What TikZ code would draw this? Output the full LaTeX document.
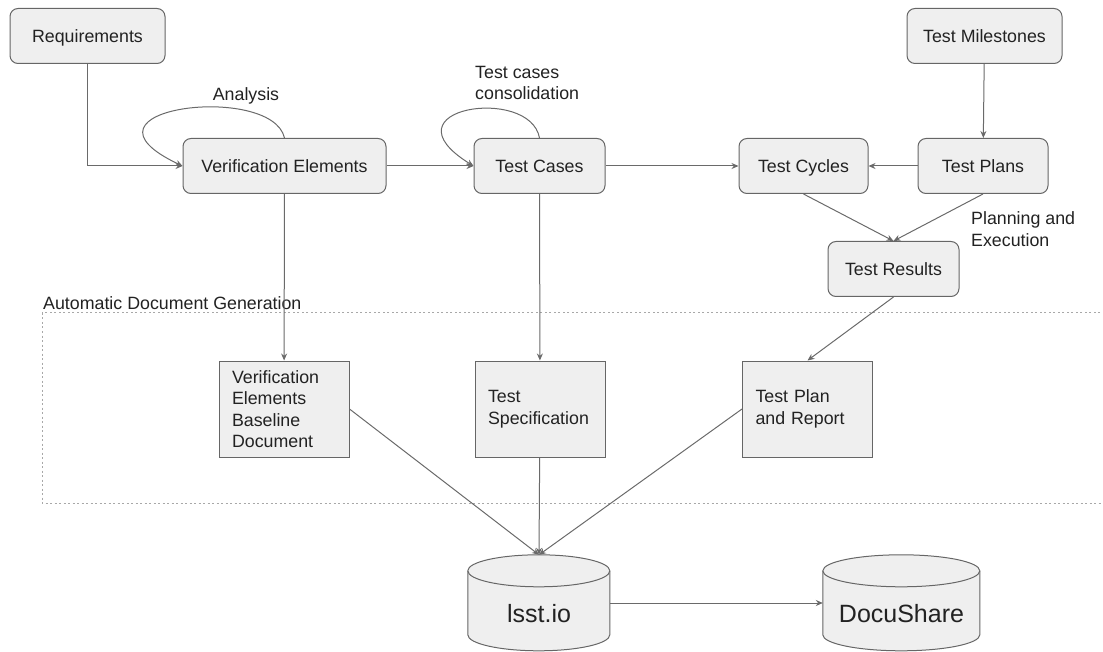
\documentclass[tikz,border=0pt]{standalone}
\usepackage{fontspec}
\setmainfont{Liberation Sans}
\usepackage{xcolor}
\usetikzlibrary{arrows.meta,backgrounds}
\definecolor{boxfill}{HTML}{EFEFEF}
\definecolor{boxline}{HTML}{666666}
\definecolor{wire}{HTML}{6A6A6A}
\definecolor{ink}{HTML}{222222}
\definecolor{frame}{HTML}{A8A8A8}
\newcommand{\labelfont}{\fontsize{17.8}{21.5}\selectfont}
% drum outline round a store node (node name, x radius)
\newcommand{\drum}[2]{%
  \filldraw[drum] (#1.north west) ++(0,16) -- ++(0,64)
    arc[start angle=180, end angle=360, x radius=#2pt, y radius=16pt] -- ++(0,-64)
    arc[start angle=0, end angle=180, x radius=#2pt, y radius=16pt] -- cycle;
  \draw[drum] (#1.north west) ++(0,16)
    arc[start angle=180, end angle=360, x radius=#2pt, y radius=16pt];
}
\tikzset{
  stage/.style={draw=boxline, fill=boxfill, rounded corners=8pt, line width=1pt,
    minimum height=55pt, inner sep=0pt, text height=12.8pt, text depth=0pt,
    text=ink, font=\labelfont},
  report/.style={draw=boxline, fill=boxfill, line width=1pt, minimum height=96pt,
    inner xsep=13pt, inner ysep=0pt, text width=104pt, align=left, text=ink, font=\labelfont},
  store/.style={inner sep=0pt, minimum height=96pt, text height=40pt, text depth=2pt,
    text=ink, font=\fontsize{25}{30}\selectfont},
  drum/.style={draw=boxline, fill=boxfill, line width=1pt},
  note/.style={inner sep=0pt, text=ink, font=\labelfont, align=left},
  flow/.style={draw=wire, line width=1pt, -{Stealth[length=7pt,width=6pt]}}
}
\begin{document}
\begin{tikzpicture}[x=1pt, y=-1pt]
  \useasboundingbox (0,0) rectangle (1103,652);
  % document generation frame
  \draw[frame, line width=1pt, dash pattern=on 2pt off 2.5pt] (42,313) rectangle (1110,503);
  \node[note, anchor=base west] (adg) at (43,309) {Automatic Document Generation};
  % top row
  \node[stage, minimum width=155pt] (req) at (87.5,36) {Requirements};
  \node[stage, minimum width=203pt] (ve) at (284.5,166) {Verification Elements};
  \node[stage, minimum width=131pt] (tc) at (539.5,166) {Test Cases};
  \node[stage, minimum width=129pt] (tcy) at (803.5,166) {Test Cycles};
  \node[stage, minimum width=130pt] (tp) at (983,166) {Test Plans};
  \node[stage, minimum width=155pt] (tm) at (984.5,36) {Test Milestones};
  \node[stage, minimum width=131pt] (tr) at (893.5,269) {Test Results};
  % generated documents
  \node[report] (vebd) at (284,409) {Verification\\Elements\\Baseline\\Document};
  \node[report] (ts) at (540,409) {Test\\Specification};
  \node[report] (tpr) at (807.5,409) {Test Plan\\and Report};
  % stores
  \node[store, minimum width=142pt] (lsst) at (539,603) {lsst.io};
  \node[store, minimum width=157pt] (docu) at (901.5,603) {DocuShare};
  \begin{scope}[on background layer]
    \drum{lsst}{71}
    \drum{docu}{78.5}
  \end{scope}
  % labels
  \node[note, anchor=base] (ana) at (246,101) {Analysis};
  \node[note, anchor=west] (cons) at (475,83) {Test cases\\consolidation};
  \node[note, anchor=west] (plan) at (971,229) {Planning and\\Execution};
  % connectors
  \draw[flow] (req.south) |- (ve.west);
  \draw[flow] (ve.north) .. controls (272,82) and (60,108) .. (ve.west);
  \draw[flow] (tc.north) .. controls (530,85) and (380,108) .. (tc.west);
  \draw[flow] (ve) -- (tc);
  \draw[flow] (tc) -- (tcy);
  \draw[flow] (tp) -- (tcy);
  \draw[flow] (tm) -- (tp);
  \draw[flow] (tcy.south) -- (tr.north);
  \draw[flow] (tp.south) -- (tr.north);
  \draw[flow] (tr.south) -- (tpr.north);
  \draw[flow] (ve) -- (vebd);
  \draw[flow] (tc) -- (ts);
  \draw[flow] (vebd.east) -- (lsst.north);
  \draw[flow] (ts) -- (lsst.north);
  \draw[flow] (tpr.west) -- (lsst.north);
  \draw[flow] (lsst) -- (docu);
\end{tikzpicture}
\end{document}
